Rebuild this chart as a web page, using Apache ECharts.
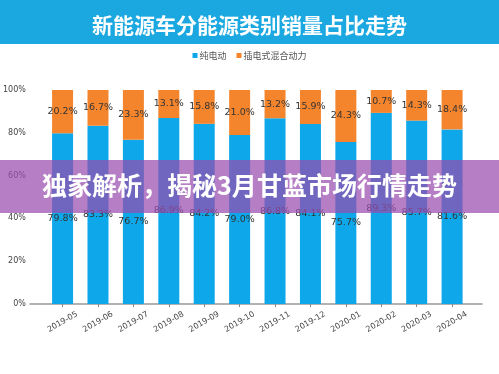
<!DOCTYPE html>
<html>
<head>
<meta charset="utf-8">
<script src="https://cdn.jsdelivr.net/npm/echarts@6/dist/echarts.min.js"></script>
<style>
html,body{margin:0;padding:0;background:#fff;}
#chart{width:499px;height:374px;}
</style>
</head>
<body>
<div id="chart"></div>
<script>
const titleText = '新能源车分能源类别销量占比走势';
const bannerText = '独家解析，揭秘3月甘蓝市场行情走势';
const categories = ['2019-05','2019-06','2019-07','2019-08','2019-09','2019-10','2019-11','2019-12','2020-01','2020-02','2020-03','2020-04'];
const seriesNames = ['纯电动','插电式混合动力'];
const bevShare = [79.8, 83.3, 76.7, 86.9, 84.2, 79.0, 86.8, 84.1, 75.7, 89.3, 85.7, 81.6];
const phevShare = [20.2, 16.7, 23.3, 13.1, 15.8, 21.0, 13.2, 15.9, 24.3, 10.7, 14.3, 18.4];
const yTicks = [0, 20, 40, 60, 80, 100];

const chart = echarts.init(document.getElementById('chart'), null, {renderer:'canvas'});
const labelStyle = {
  show: true, position: 'inside', color: '#333',
  fontFamily: 'DejaVu Sans', fontSize: 9.5,
  formatter: p => p.value.toFixed(1) + '%'
};
chart.setOption({
  animation: false,
  backgroundColor: '#fff',
  title: {
    text: titleText, left: 'center', top: 10,
    textStyle: {color: '#fff', fontSize: 21, fontWeight: 'bold', fontFamily: 'Noto Sans CJK SC'}
  },
  legend: {
    data: seriesNames, top: 51, left: 'center',
    itemWidth: 5, itemHeight: 5, itemGap: 10, icon: 'rect', padding: 0,
    textStyle: {color: '#555', fontSize: 9, fontFamily: 'Noto Sans CJK SC', padding: [0,0,0,-3]}
  },
  grid: [
    {left: 42.7, right: 29.2, top: 90, bottom: 70},
    {left: 30, right: 17, top: 90, bottom: 70}
  ],
  xAxis: [
    {
      type: 'category', data: categories, gridIndex: 0,
      axisLine: {show: false},
      axisTick: {show: true, alignWithLabel: true, length: 3, lineStyle: {color: '#888'}},
      axisLabel: {rotate: 30, align: 'center', verticalAlign: 'middle', margin: 18,
        color: '#444', fontSize: 8, fontFamily: 'DejaVu Sans', interval: 0}
    },
    {
      type: 'value', gridIndex: 1, min: 0, max: 1,
      axisLine: {show: true, lineStyle: {color: '#999', width: 1.5}},
      axisTick: {show: false}, axisLabel: {show: false}, splitLine: {show: false}
    }
  ],
  yAxis: [
    {
      type: 'value', gridIndex: 0, min: yTicks[0], max: yTicks[yTicks.length-1], interval: 20,
      axisLine: {show: false}, axisTick: {show: false}, splitLine: {show: false},
      axisLabel: {formatter: v => v + '%', color: '#444', fontSize: 8, fontFamily: 'DejaVu Sans', margin: 19}
    },
    {
      type: 'value', gridIndex: 1, min: 0, max: 1, show: false
    }
  ],
  series: [
    {
      name: seriesNames[0], type: 'bar', stack: 'share', data: bevShare,
      barWidth: 21, xAxisIndex: 0, yAxisIndex: 0,
      itemStyle: {color: '#0ea8ea'}, label: labelStyle
    },
    {
      name: seriesNames[1], type: 'bar', stack: 'share', data: phevShare,
      barWidth: 21, xAxisIndex: 0, yAxisIndex: 0,
      itemStyle: {color: '#f5852d'},
      label: labelStyle
    }
  ],
  graphic: [
    {type: 'rect', left: 0, top: 0, z: -1, shape: {width: 499, height: 44}, style: {fill: '#1ba8e1'}},
    {type: 'rect', left: 0, top: 160, z: 100, shape: {width: 499, height: 53}, style: {fill: 'rgba(152,76,174,0.72)'}},
    {type: 'text', left: 'center', top: 173, z: 101,
      style: {text: bannerText, fill: '#fff', font: 'bold 25px "Noto Sans CJK SC"'}}
  ]
});
</script>
</body>
</html>
